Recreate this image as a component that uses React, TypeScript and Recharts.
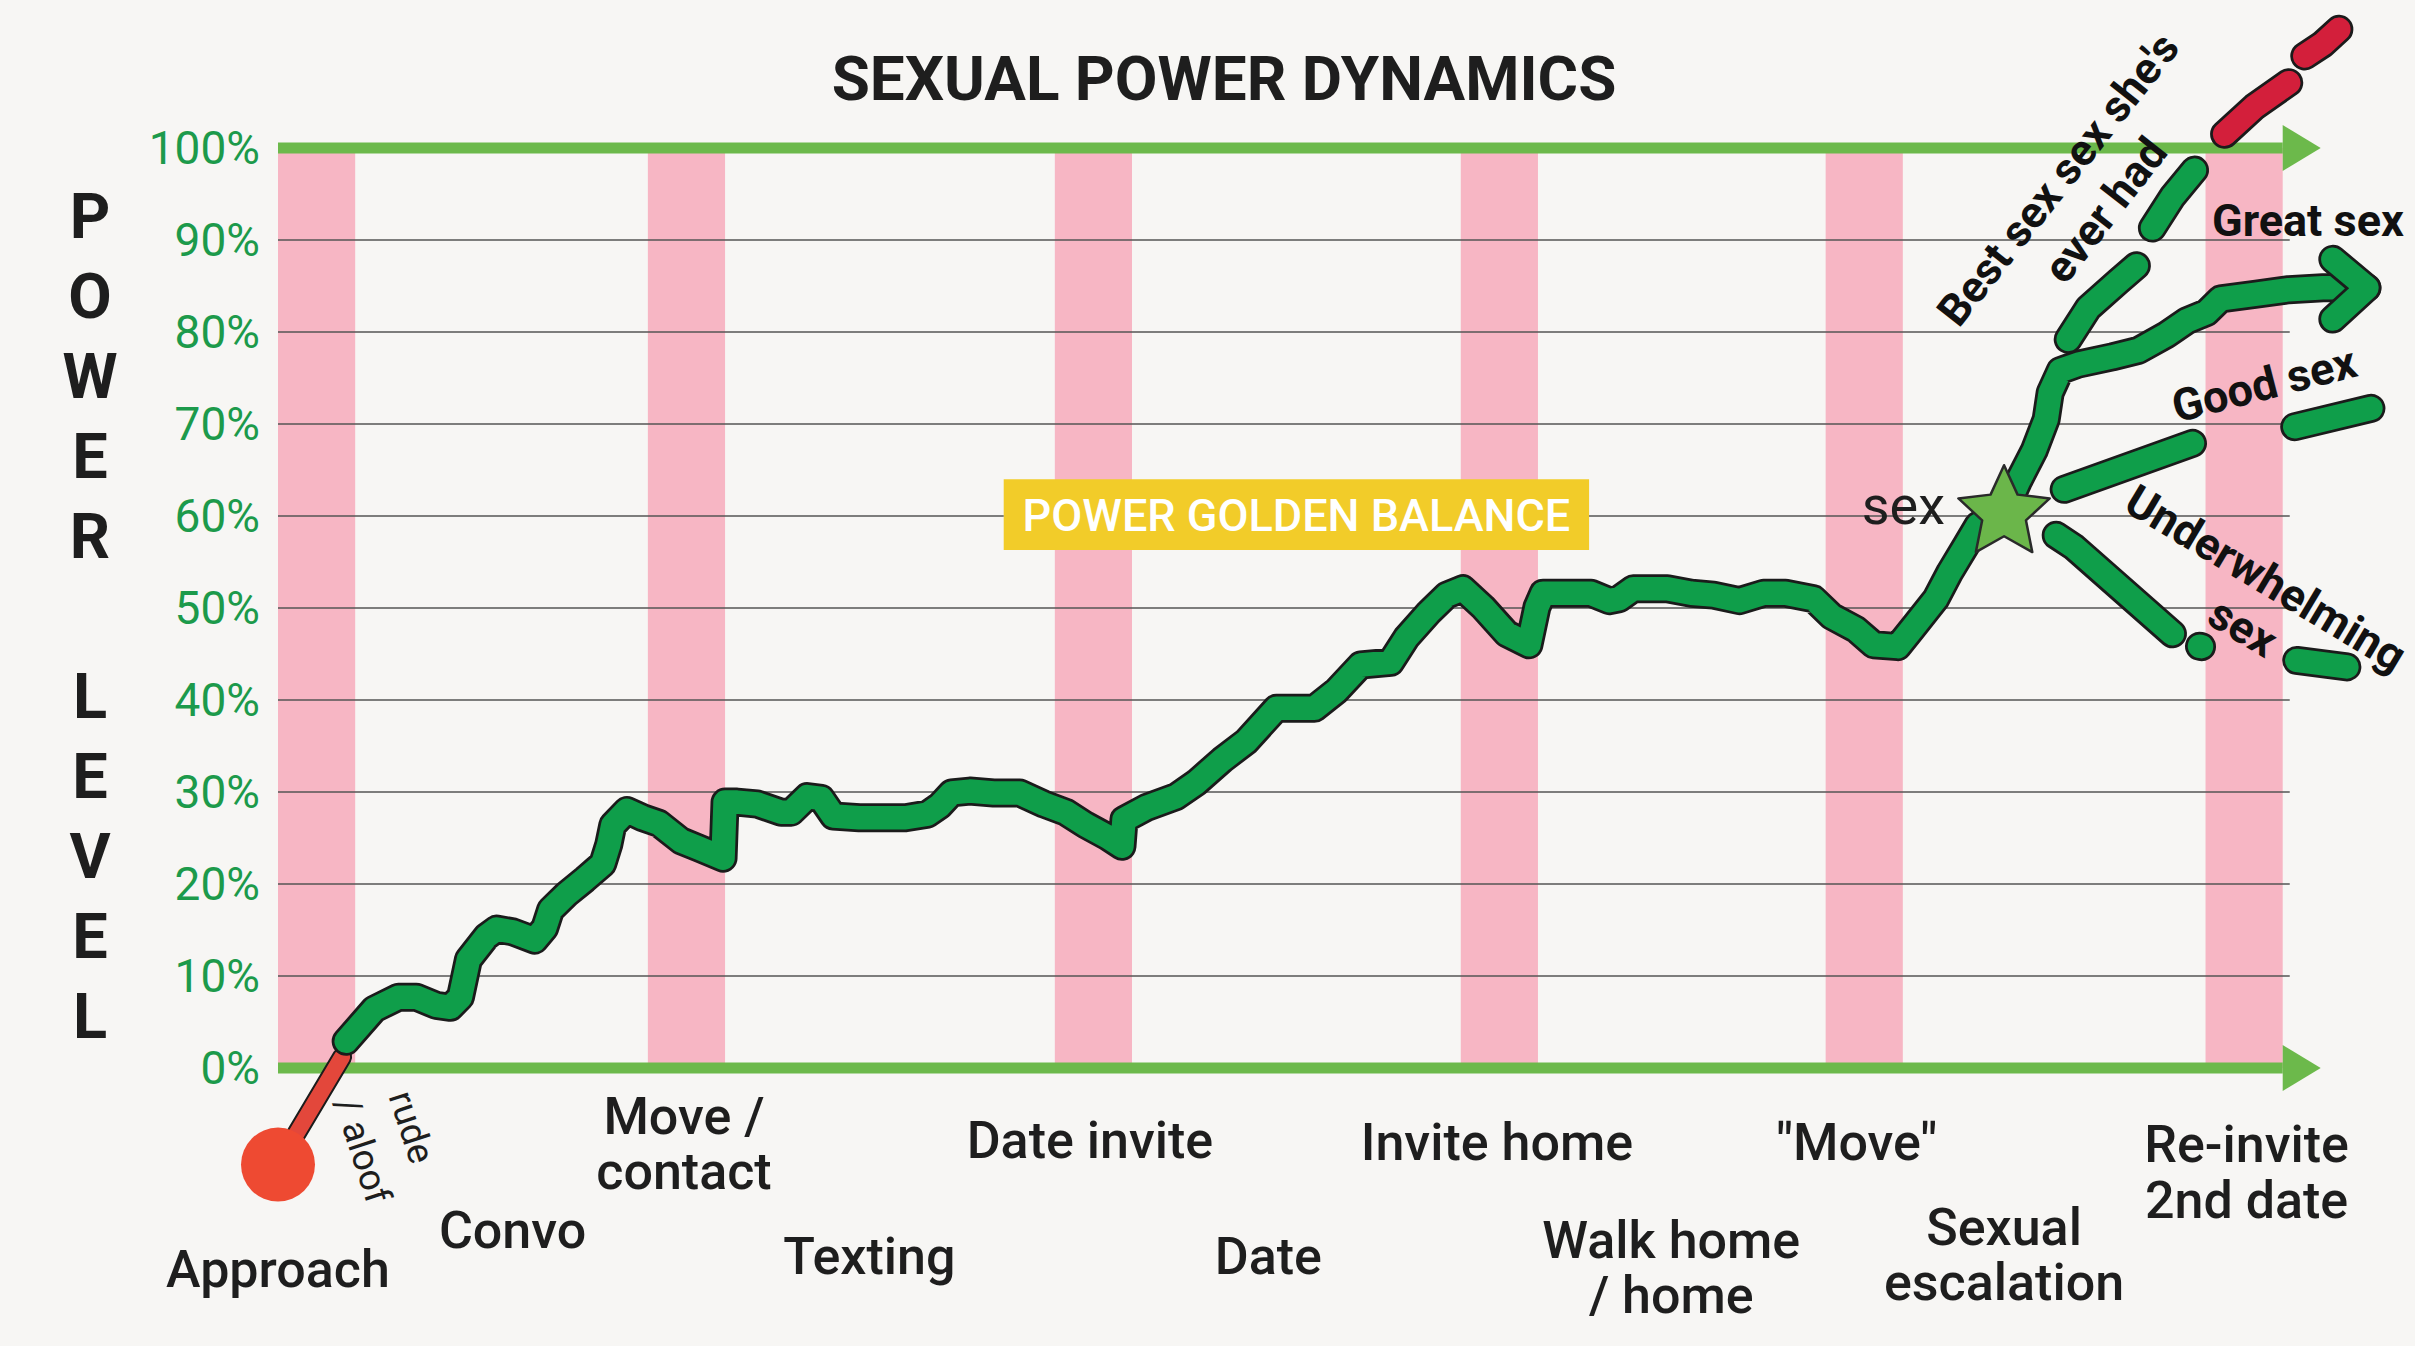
import React from "react";
import { ComposedChart, Line, Scatter, XAxis, YAxis, ReferenceArea, ReferenceLine } from "recharts";

const W = 2415;
const H = 1346;
const FONT = "Roboto, 'Noto Sans', sans-serif";
const BG = "#f7f6f4";
const INK = "#1e1e1e";
const TICK_GREEN = "#1c9a4b";
const AXIS_GREEN = "#6cb94b";
const LINE_GREEN = "#0f9e4a";
const OUTLINE = "#1b1b1b";
const BAD_RED = "#d31f3b";
const PINK = "#f7b6c4";

// plot geometry (value space, not data)
const Y_MIN = -15;
const Y_MAX = 115;
const X_MIN = 0;
const X_MAX = 106;
const MARGIN = { top: 10, right: 12, bottom: 0, left: 0 };
const Y_AXIS_W = 278;
const X_AXIS_H = 140;
const PLOT_H = H - MARGIN.top - MARGIN.bottom - X_AXIS_H;
const ZERO_UP = (PLOT_H * (0 - Y_MIN)) / (Y_MAX - Y_MIN);

// ---- data ----
const yTicks = [0, 10, 20, 30, 40, 50, 60, 70, 80, 90, 100];
const gridLevels = [10, 20, 30, 40, 50, 60, 70, 80, 90];
const GRID_END = 100.35;

const stageNames = [
  "Approach", "Convo", "Move /\ncontact", "Texting", "Date invite", "Date",
  "Invite home", "Walk home\n/ home", "\"Move\"", "Sexual\nescalation", "Re-invite\n2nd date",
];
const stageX = [0, 11.7, 20.25, 29.5, 40.5, 49.4, 60.8, 69.5, 78.75, 86.1, 98.2];

const bandStart = [0, 18.45, 38.75, 59.0, 77.2, 96.15];
const BAND_W = 3.85;

const goldenBox = { x1: 36.2, x2: 65.4, y1: 56.3, y2: 64.0 };

const mainPath = [
  [3.4, 2.9], [4.8, 6.4], [6.0, 7.7], [6.9, 7.7], [7.9, 6.8], [8.6, 6.6], [9.1, 7.7],
  [9.5, 11.8], [10.4, 14.3], [10.9, 15.1], [11.7, 14.8], [12.8, 13.9], [13.3, 15.2],
  [13.6, 17.2], [14.4, 18.9], [15.3, 20.5], [16.2, 22.2], [16.5, 24.3], [16.7, 26.4],
  [17.4, 28.0], [18.2, 27.2], [19.0, 26.6], [20.1, 24.7], [21.0, 23.9], [22.2, 22.8],
  [22.3, 28.9], [22.9, 28.9], [23.9, 28.7], [25.1, 27.8], [25.6, 27.8], [26.4, 29.5],
  [27.1, 29.3], [27.7, 27.4], [29.0, 27.2], [31.3, 27.2], [32.4, 27.6], [33.0, 28.5],
  [33.6, 29.9], [34.5, 30.1], [35.7, 29.9], [37.0, 29.9], [38.2, 28.7], [39.3, 27.8],
  [40.3, 26.4], [41.4, 25.1], [42.1, 24.1], [42.2, 27.0], [43.3, 28.3], [44.8, 29.5],
  [45.8, 31.0], [47.1, 33.5], [48.3, 35.5], [49.8, 39.1], [51.7, 39.1], [52.8, 41.0],
  [54.0, 43.8], [55.5, 44.1], [56.3, 46.8], [57.4, 49.5], [58.3, 51.4], [59.1, 52.1],
  [60.1, 50.1], [61.3, 47.2], [62.4, 46.0], [62.8, 50.1], [63.1, 51.6], [65.5, 51.6],
  [66.4, 50.8], [66.9, 51.0], [67.6, 52.1], [69.3, 52.1], [70.5, 51.6], [71.6, 51.4],
  [72.9, 50.8], [74.1, 51.6], [75.2, 51.6], [76.6, 51.0], [77.5, 49.1], [78.7, 47.7],
  [79.6, 46.0], [80.8, 45.8], [81.5, 47.7], [82.7, 51.0], [83.4, 53.9], [84.2, 56.8],
  [84.8, 59.0], [86.1, 60.3], [86.8, 63.7], [87.6, 67.1], [88.2, 70.5], [88.4, 73.4],
  [88.9, 75.8], [89.8, 76.5], [91.5, 77.3], [92.8, 78.0], [94.2, 79.7], [95.2, 81.2],
  [96.2, 82.1], [96.9, 83.6], [98.6, 84.1], [100.3, 84.6], [102.0, 84.8], [104.2, 84.8],
];
const greatHead = [[102.5, 87.9], [104.2, 84.8], [102.5, 81.4]];

const bestGreen = [
  [[89.3, 79.2], [90.3, 82.6], [91.8, 85.5], [92.7, 87.2]],
  [[93.5, 91.3], [94.5, 94.7], [95.6, 97.6]],
];
const bestRed = [
  [[97.1, 101.5], [98.6, 104.5], [100.3, 107.1]],
  [[101.1, 110.0], [102.0, 111.3], [102.8, 112.9]],
];
const goodDashes = [
  [[89.1, 62.9], [95.5, 67.9]],
  [[100.6, 69.7], [104.4, 71.7]],
];
const underDashes = [
  [[88.7, 57.9], [89.6, 56.6], [94.5, 47.2]],
  [[95.85, 45.85], [95.95, 45.8]],
  [[100.7, 44.3], [103.2, 43.6]],
];
const entryLine = [[0, -10.5], [3.2, 1.2]];
const approachDot = [[0, -10.5]];
const sexStar = [[86.1, 60.3]];

// ---- styles for category label rows (baseline offsets below the 0% line) ----
const STAGE_BASE = [[219], [180], [66, 121], [206], [90], [206], [92], [190, 245], [92], [177, 232], [94, 150]];

const pts = (arr: number[][]) => arr.map(([x, y]) => ({ x, y }));

function StageTick(props: any) {
  const { x, y, payload } = props;
  const i = stageX.indexOf(payload.value);
  if (i < 0) return null;
  const zeroY = y - ZERO_UP;
  return (
    <g>
      {stageNames[i].split("\n").map((t, j) => (
        <text key={j} x={x} y={zeroY + STAGE_BASE[i][j]} textAnchor="middle"
          fontSize={52} fontWeight={500} fill={INK} fontFamily={FONT}>{t}</text>
      ))}
    </g>
  );
}

function ArrowAxis(props: any) {
  const { x1, y1, x2, y2 } = props;
  return (
    <g>
      <line x1={x1} y1={y1} x2={x2} y2={y2} stroke={AXIS_GREEN} strokeWidth={11} />
      <polygon points={`${x2},${y2 - 23} ${x2 + 38},${y2} ${x2},${y2 + 23}`} fill={AXIS_GREEN} />
    </g>
  );
}

function starPath(cx: number, cy: number, ro: number, ri: number) {
  let d = "";
  for (let k = 0; k < 10; k++) {
    const r = k % 2 === 0 ? ro : ri;
    const a = -Math.PI / 2 + (k * Math.PI) / 5;
    d += `${k === 0 ? "M" : "L"}${cx + r * Math.cos(a)},${cy + r * Math.sin(a)}`;
  }
  return d + "Z";
}

function thickLine(key: string, arr: number[][], color: string, outer = 29, inner = 23.5) {
  const data = pts(arr);
  const common = {
    data, dataKey: "y", type: "linear" as const, dot: false, activeDot: false,
    isAnimationActive: false, strokeLinecap: "round" as const, strokeLinejoin: "round" as const,
    legendType: "none" as const,
  };
  return [
    <Line key={key + "-o"} {...common} stroke={OUTLINE} strokeWidth={outer} />,
    <Line key={key + "-i"} {...common} stroke={color} strokeWidth={inner} />,
  ];
}

export default function App() {
  const letters = "POWER LEVEL".split("");
  return (
    <div style={{ position: "relative", width: W, height: H, background: BG, fontFamily: FONT }}>
      <style>{`body{margin:0;background:${BG};}`}</style>
      <ComposedChart width={W} height={H} margin={MARGIN}>
        <XAxis type="number" dataKey="x" domain={[X_MIN, X_MAX]} ticks={stageX} interval={0}
          height={X_AXIS_H} axisLine={false} tickLine={false} tickSize={0} tickMargin={0}
          tick={(p: any) => <StageTick {...p} />} />
        <YAxis type="number" dataKey="y" domain={[Y_MIN, Y_MAX]} ticks={yTicks} interval={0}
          width={Y_AXIS_W} axisLine={false} tickLine={false} tickSize={0} tickMargin={18}
          tickFormatter={(v: number) => `${v}%`}
          tick={{ fill: TICK_GREEN, fontSize: 46, fontFamily: FONT }} />

        {bandStart.map((b) => (
          <ReferenceArea key={"band" + b} x1={b} x2={b + BAND_W} y1={0} y2={100}
            fill={PINK} fillOpacity={1} stroke="none" />
        ))}

        {gridLevels.flatMap((v) =>
          v === 60
            ? [
                <ReferenceLine key="g60a" segment={[{ x: 0, y: 60 }, { x: goldenBox.x1, y: 60 }]} stroke="#555" strokeWidth={1.6} />,
                <ReferenceLine key="g60b" segment={[{ x: goldenBox.x2, y: 60 }, { x: GRID_END, y: 60 }]} stroke="#555" strokeWidth={1.6} />,
              ]
            : [<ReferenceLine key={"g" + v} segment={[{ x: 0, y: v }, { x: GRID_END, y: v }]} stroke="#555" strokeWidth={1.6} />]
        )}

        <ReferenceArea x1={goldenBox.x1} x2={goldenBox.x2} y1={goldenBox.y1} y2={goldenBox.y2}
          fill="#f2cc29" fillOpacity={1} stroke="none"
          label={{ value: "POWER GOLDEN BALANCE", position: "center", fill: "#ffffff", fontSize: 45, fontWeight: 500, fontFamily: FONT }} />

        <ReferenceLine segment={[{ x: 0, y: 100 }, { x: 100, y: 100 }]} shape={(p: any) => <ArrowAxis {...p} />} />
        <ReferenceLine segment={[{ x: 0, y: 0 }, { x: 100, y: 0 }]} shape={(p: any) => <ArrowAxis {...p} />} />

        {thickLine("entry", entryLine, "#e3473b", 20, 16)}
        {thickLine("main", mainPath, LINE_GREEN)}
        {thickLine("head", greatHead, LINE_GREEN)}
        {bestGreen.flatMap((d, i) => thickLine("best" + i, d, LINE_GREEN))}
        {bestRed.flatMap((d, i) => thickLine("red" + i, d, BAD_RED))}
        {goodDashes.flatMap((d, i) => thickLine("good" + i, d, LINE_GREEN))}
        {underDashes.flatMap((d, i) => thickLine("under" + i, d, LINE_GREEN))}

        <Scatter data={pts(approachDot)} isAnimationActive={false} legendType="none"
          shape={(p: any) => <circle cx={p.cx} cy={p.cy} r={37} fill="#ee4a32" />} />
        <Scatter data={pts(sexStar)} isAnimationActive={false} legendType="none"
          shape={(p: any) => (
            <path d={starPath(p.cx, p.cy, 48, 23)} fill="#6bb64a" stroke="#2a2a2a" strokeWidth={2.5} strokeLinejoin="round" />
          )} />
      </ComposedChart>

      <svg width={W} height={H} style={{ position: "absolute", left: 0, top: 0, pointerEvents: "none" }} fontFamily={FONT}>
        <text x={1224} y={100} textAnchor="middle" fontSize={62} fontWeight={700} fill={INK}>SEXUAL POWER DYNAMICS</text>
        {letters.map((c, i) =>
          c === " " ? null : (
            <text key={i} x={90} y={238 + i * 80} textAnchor="middle" fontSize={63} fontWeight={700} fill={INK}>{c}</text>
          )
        )}
        <text x={1945} y={524} textAnchor="end" fontSize={54} fill={INK}>sex</text>
        <text x={2212} y={236} fontSize={45} fontWeight={700} fill="#111">Great sex</text>
        <text transform="translate(2264,384) rotate(-14.4)" textAnchor="middle" dy="0.35em" fontSize={45} fontWeight={700} fill="#111">Good sex</text>
        <text transform="translate(2266,578) rotate(31)" textAnchor="middle" dy="0.35em" fontSize={45} fontWeight={700} fill="#111">Underwhelming</text>
        <text transform="translate(2243,627) rotate(31)" textAnchor="middle" dy="0.35em" fontSize={45} fontWeight={700} fill="#111">sex</text>
        <text transform="translate(2058,179) rotate(-51.6)" textAnchor="middle" dy="0.35em" fontSize={44} fontWeight={700} fill="#111">Best sex sex she's</text>
        <text transform="translate(2105,210) rotate(-52)" textAnchor="middle" dy="0.35em" fontSize={44} fontWeight={700} fill="#111">ever had</text>
        <text transform="translate(412,1127) rotate(72)" textAnchor="middle" dy="0.35em" fontSize={37} fill={INK}>rude</text>
        <text transform="translate(363,1150) rotate(72)" textAnchor="middle" dy="0.35em" fontSize={37} fill={INK}>/ aloof</text>
      </svg>
    </div>
  );
}
